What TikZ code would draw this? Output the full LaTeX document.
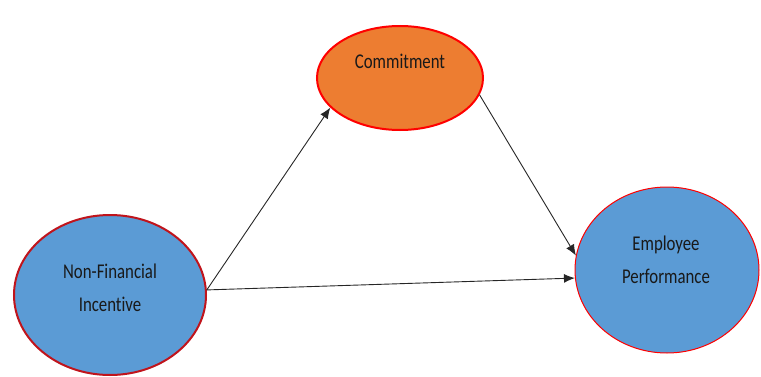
\documentclass[tikz,border=0pt]{standalone}
\usepackage{fontspec}
\setmainfont[FakeStretch=0.8,RawFeature=-liga]{Carlito}
\usetikzlibrary{shapes.geometric,arrows.meta}
\definecolor{obox}{HTML}{ED7D31}
\definecolor{bbox}{HTML}{5B9BD5}
\definecolor{rline}{HTML}{FF0000}
\definecolor{drline}{HTML}{C0141C}
\begin{document}
\begin{tikzpicture}[x=1pt,y=1pt,
  ell/.style={ellipse,inner sep=0pt},
  txt/.style={align=center,font=\fontsize{21}{33}\selectfont,text=black!90},
  conn/.style={draw=black!85,line width=0.9pt,-{Latex[length=11pt,width=9pt]}}]
\useasboundingbox (0,0) rectangle (761,376);
\node[ell,fill=obox,draw=rline,line width=2pt,minimum width=166pt,minimum height=104pt] (com) at (400,298) {};
\node[ell,fill=bbox,draw=drline,line width=2pt,minimum width=192pt,minimum height=160pt] (nfi) at (110,81) {};
\node[ell,fill=bbox,draw=rline,line width=1pt,minimum width=184pt,minimum height=166pt] (ep) at (667,106) {};
\node[txt] (comt) at (400,315) {Commitment};
\node[txt] (nfit) at (110,88.5) {Non-Financial\\Incentive};
\node[txt] (ept) at (666,116.5) {Employee\\Performance};
\draw[conn] (nfi.3) -- (com.203);
\draw[conn] (nfi.3) -- (ep.185);
\draw[conn] (com.-12) -- (ep.171);
\end{tikzpicture}
\end{document}
